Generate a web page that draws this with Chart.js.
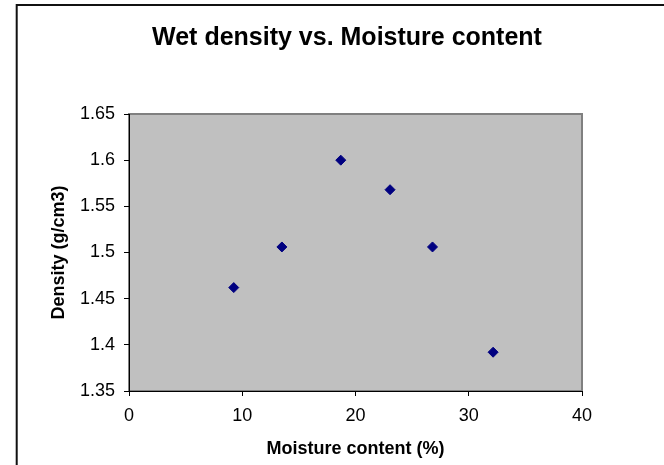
<!DOCTYPE html>
<html><head><meta charset="utf-8">
<script src="https://cdn.jsdelivr.net/npm/chart.js@4.4.0/dist/chart.umd.min.js"></script>
<style>html,body{margin:0;padding:0;background:#fff;} #wrap{width:664px;height:465px;position:relative;}</style>
</head><body><div id="wrap"><canvas id="c" width="664" height="465"></canvas></div>
<script>
const chartTitle = 'Wet density vs. Moisture content';
const xAxisTitle = 'Moisture content (%)';
const yAxisTitle = 'Density (g/cm3)';
const moisture = [9.25, 13.5, 18.7, 23.05, 26.8, 32.15];
const density = [1.462, 1.506, 1.600, 1.568, 1.506, 1.392];
const xTicks = [0, 10, 20, 30, 40];
const yTicks = [1.35, 1.4, 1.45, 1.5, 1.55, 1.6, 1.65];
const yTickLabels = ['1.35', '1.4', '1.45', '1.5', '1.55', '1.6', '1.65'];

Chart.defaults.font.family = "'Liberation Sans', Arial, sans-serif";
Chart.defaults.color = '#000';

const framePlugin = {
  id: 'frame',
  beforeDraw(chart) {
    const ctx = chart.ctx, a = chart.chartArea;
    ctx.save();
    ctx.fillStyle = '#fff';
    ctx.fillRect(0, 0, chart.width, chart.height);
    ctx.strokeStyle = '#111';
    ctx.lineWidth = 2;
    ctx.strokeRect(16.7, 5, chart.width + 40, chart.height + 40);
    ctx.fillStyle = '#c0c0c0';
    ctx.fillRect(a.left, a.top, a.right - a.left, a.bottom - a.top);
    ctx.strokeStyle = '#808080';
    ctx.lineWidth = 2;
    ctx.strokeRect(a.left, a.top, a.right - a.left, a.bottom - a.top);
    ctx.restore();
  }
};

const points = moisture.map((m, i) => ({ x: m, y: density[i] }));

new Chart(document.getElementById('c'), {
  type: 'scatter',
  data: {
    datasets: [{
      data: points,
      pointStyle: 'rectRot',
      pointRadius: 5,
      pointHoverRadius: 5,
      backgroundColor: '#000080',
      borderColor: '#000080',
      borderWidth: 1,
      showLine: false
    }]
  },
  options: {
    responsive: false,
    animation: false,
    devicePixelRatio: 1,
    events: [],
    layout: { padding: { left: 30, right: 0, top: 0, bottom: 0 } },
    plugins: {
      legend: { display: false },
      tooltip: { enabled: false },
      title: {
        display: true,
        text: chartTitle,
        color: '#000',
        font: { size: 25, weight: 'bold' },
        padding: { top: 23, bottom: 61 }
      }
    },
    scales: {
      x: {
        type: 'linear',
        position: 'bottom',
        min: 0, max: 40,
        afterBuildTicks: s => { s.ticks = xTicks.map(v => ({ value: v })); },
        afterFit: s => { s.height = 74; s.paddingLeft = 0; s.paddingRight = 0; s.paddingTop = 0; s.paddingBottom = 0; },
        ticks: { font: { size: 18 }, color: '#000', padding: 9, maxRotation: 0, callback: v => String(v) },
        grid: { drawOnChartArea: false, drawTicks: true, tickLength: 5, tickColor: '#000', tickWidth: 1 },
        border: { display: true, color: '#000', width: 1 },
        title: { display: true, text: xAxisTitle, color: '#000', font: { size: 18, weight: 'bold' }, padding: { top: 0, bottom: 5 } }
      },
      y: {
        type: 'linear',
        position: 'left',
        min: 1.35, max: 1.65,
        afterBuildTicks: s => { s.ticks = yTicks.map(v => ({ value: v })); },
        afterFit: s => { s.width = 99; s.paddingLeft = 0; s.paddingRight = 0; s.paddingTop = 0; s.paddingBottom = 0; },
        ticks: { font: { size: 18 }, color: '#000', padding: 9, callback: (v, i) => yTickLabels[i] },
        grid: { drawOnChartArea: false, drawTicks: true, tickLength: 5, tickColor: '#000', tickWidth: 1 },
        border: { display: true, color: '#000', width: 1 },
        title: { display: true, text: yAxisTitle, color: '#000', font: { size: 18, weight: 'bold' }, padding: { top: 18, bottom: 0 } }
      },
      yRight: {
        type: 'linear',
        position: 'right',
        display: true,
        ticks: { display: false },
        grid: { display: false, drawTicks: false },
        border: { display: false },
        afterFit: s => { s.width = 82; s.paddingLeft = 0; s.paddingRight = 0; s.paddingTop = 0; s.paddingBottom = 0; }
      }
    }
  },
  plugins: [framePlugin]
});
</script>
</body></html>
